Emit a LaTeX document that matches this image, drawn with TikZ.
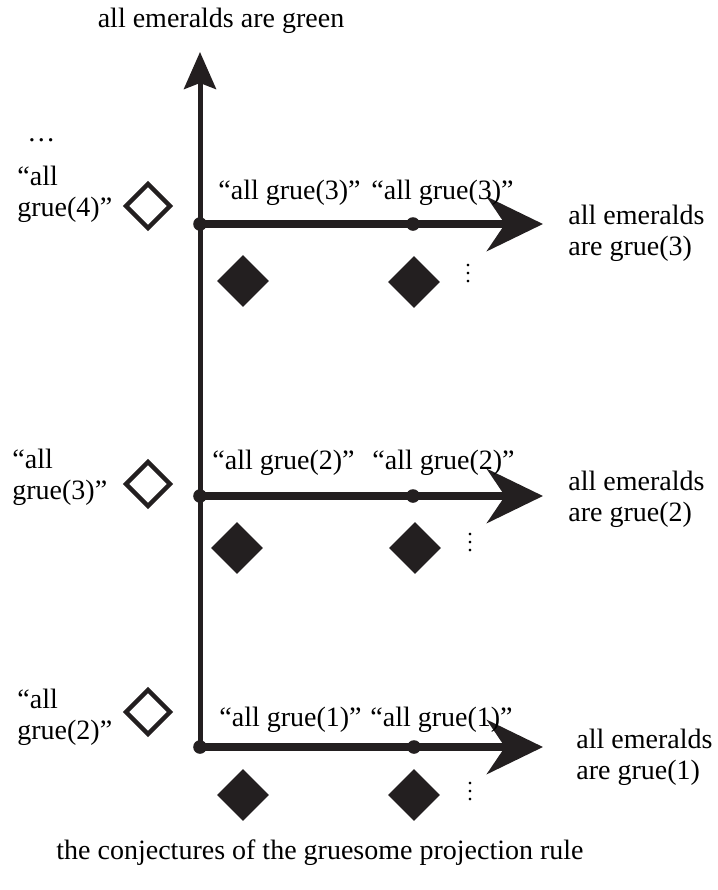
\documentclass[tikz,border=0pt]{standalone}
\usepackage{fontspec}
\setmainfont{Liberation Serif}
\usepackage{tikz}
\usetikzlibrary{shapes.geometric, arrows.meta, positioning}
\definecolor{ink}{RGB}{35, 31, 32}

\begin{document}
\begin{tikzpicture}[x=0.5pt, y=-0.5pt,
    lbl/.style={inner sep=0pt, font=\fontsize{14}{15.5}\selectfont, align=left},
    more/.style={inner sep=0pt, font=\fontsize{11}{12}\selectfont},
    dot/.style={circle, fill=ink, minimum size=6.8pt, inner sep=0pt},
    opendia/.style={diamond, aspect=1, draw=ink, line width=2.2pt, fill=white, minimum size=23pt, inner sep=0pt},
    filldia/.style={diamond, aspect=1, fill=ink, minimum size=26pt, inner sep=0pt},
    vline/.style={ink, line width=2.5pt, -{Stealth[length=18.5pt, width=16pt, inset=3pt]}},
    hline/.style={ink, line width=4pt, -{Stealth[length=28pt, width=27pt, inset=9pt]}}]
    \useasboundingbox (0,0) rectangle (718,890);

    % Titles
    \node[lbl] (green) at (221, 21) {all emeralds are green};
    \node[lbl] (caption) at (320, 853) {the conjectures of the gruesome projection rule};
    \node[lbl, anchor=west] (etc) at (27, 140) {\dots};

    % Points on the axes
    \node[dot] (p3a) at (200, 224) {};
    \node[dot] (p3b) at (413, 224) {};
    \node[dot] (p2a) at (200, 496) {};
    \node[dot] (p2b) at (413, 496) {};
    \node[dot] (p1a) at (200, 747) {};
    \node[dot] (p1b) at (414, 747) {};

    % Arrow ends
    \coordinate (top) at (200, 52);
    \coordinate (end3) at (543, 224);
    \coordinate (end2) at (543, 496);
    \coordinate (end1) at (543, 747);

    % Axes
    \draw[vline] (p1a.center) -- (top);
    \draw[hline] (p3a.center) -- (end3);
    \draw[hline] (p2a.center) -- (end2);
    \draw[hline] (p1a.center) -- (end1);

    % Row grue(3)
    \node[opendia] (o4) at (148, 206) {};
    \node[lbl, anchor=west] (l4) at (17, 194) {“all\\grue(4)”};
    \node[lbl, anchor=west] (c3a) at (218, 193) {“all grue(3)”};
    \node[lbl, anchor=west] (c3b) at (371, 193) {“all grue(3)”};
    \node[filldia] (f3a) at (243, 281) {};
    \node[filldia] (f3b) at (414, 282) {};
    \node[more] (v3) at (468, 268) {$\vdots$};
    \node[lbl, anchor=west] (r3) at (568, 233) {all emeralds\\are grue(3)};

    % Row grue(2)
    \node[opendia] (o3) at (148, 484) {};
    \node[lbl, anchor=west] (l3) at (12, 477) {“all\\grue(3)”};
    \node[lbl, anchor=west] (c2a) at (212, 463) {“all grue(2)”};
    \node[lbl, anchor=west] (c2b) at (372, 463) {“all grue(2)”};
    \node[filldia] (f2a) at (237, 548) {};
    \node[filldia] (f2b) at (415, 548) {};
    \node[more] (v2) at (470, 537) {$\vdots$};
    \node[lbl, anchor=west] (r2) at (568, 499) {all emeralds\\are grue(2)};

    % Row grue(1)
    \node[opendia] (o2) at (148, 712) {};
    \node[lbl, anchor=west] (l2) at (17, 717) {“all\\grue(2)”};
    \node[lbl, anchor=west] (c1a) at (219, 720) {“all grue(1)”};
    \node[lbl, anchor=west] (c1b) at (370, 720) {“all grue(1)”};
    \node[filldia] (f1a) at (243, 795) {};
    \node[filldia] (f1b) at (414, 795) {};
    \node[more] (v1) at (470, 785) {$\vdots$};
    \node[lbl, anchor=west] (r1) at (576, 757) {all emeralds\\are grue(1)};

\end{tikzpicture}
\end{document}
